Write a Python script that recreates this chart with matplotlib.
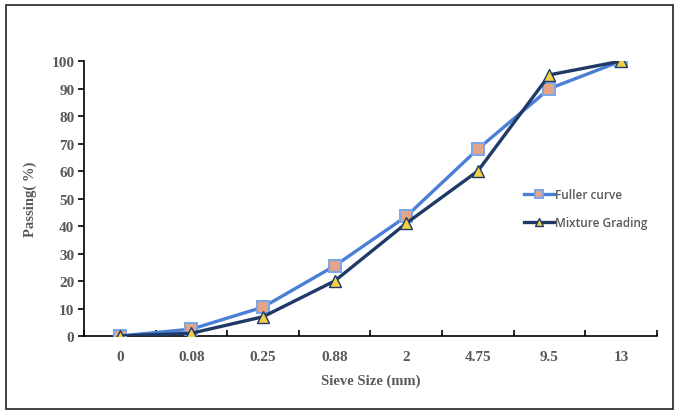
import matplotlib.pyplot as plt
import matplotlib.patches as patches
import numpy as np

# sieve sizes (categories) and passing percentages
sieve_sizes = ['0', '0.08', '0.25', '0.88', '2', '4.75', '9.5', '13']
fuller_curve = [0, 2.5, 10.5, 25.5, 43.5, 68, 90, 100]
mixture_grading = [0, 1, 7, 20, 41, 60, 95, 100]

TEXT_GRAY = '#595959'
serif = 'Liberation Serif'

fig = plt.figure(figsize=(6.8, 4.14), dpi=100)
ax = fig.add_axes([0.1235, 0.186, 0.8425, 0.664])

x = np.arange(len(sieve_sizes))
ax.plot(x, fuller_curve, '-s', color='#4a7fd6', lw=2.4, ms=8,
        mfc='#e4a48a', mec='#7aa6e8', mew=1.4, label='Fuller curve', zorder=3)
ax.plot(x, mixture_grading, '-^', color='#1f3a66', lw=2.4, ms=8,
        mfc='#f2cf45', mec='#1f3a66', mew=1.0, label='Mixture Grading', zorder=4)

ax.set_xlim(-0.5, len(sieve_sizes) - 0.5)
ax.set_ylim(0, 100)
ax.set_yticks(range(0, 101, 10))
ax.set_xticks(x)
ax.set_xticklabels(sieve_sizes)
ax.set_xticks(np.arange(-0.5, len(sieve_sizes), 1), minor=True)

for s in ['top', 'right']:
    ax.spines[s].set_visible(False)
for s in ['left', 'bottom']:
    ax.spines[s].set_color('#000000')
    ax.spines[s].set_linewidth(1.2)

ax.tick_params(axis='x', which='major', length=0, pad=10)
ax.tick_params(axis='x', which='minor', direction='in', length=4, width=1.2, color='black')
ax.tick_params(axis='y', direction='out', length=4, width=1.2, pad=3)

for lbl in ax.get_xticklabels() + ax.get_yticklabels():
    lbl.set_fontfamily(serif)
    lbl.set_fontsize(11)
    lbl.set_fontweight('bold')
    lbl.set_color(TEXT_GRAY)

ax.set_xlabel('Sieve Size (mm)', family=serif, fontsize=10.5, fontweight='bold',
              color=TEXT_GRAY, labelpad=8)
ax.set_ylabel('Passing( %)', family=serif, fontsize=10.5, fontweight='bold',
              color=TEXT_GRAY, labelpad=10)

leg = ax.legend(loc='center left', bbox_to_anchor=(0.757, 0.463), frameon=False,
                prop={'family': 'Open Sans', 'size': 8.5, 'weight': 'semibold'},
                handlelength=2.6, handletextpad=0.05, labelspacing=1.25, borderpad=0,
                markerscale=0.75)
for t in leg.get_texts():
    t.set_color(TEXT_GRAY)

# outer border around the whole chart
fig.patches.append(patches.Rectangle((6 / 680, 4 / 414), 667 / 680, 404 / 414,
                                     transform=fig.transFigure, fill=False,
                                     edgecolor='#222222', lw=1.2))

plt.savefig('out.png', dpi=100)
plt.close()
